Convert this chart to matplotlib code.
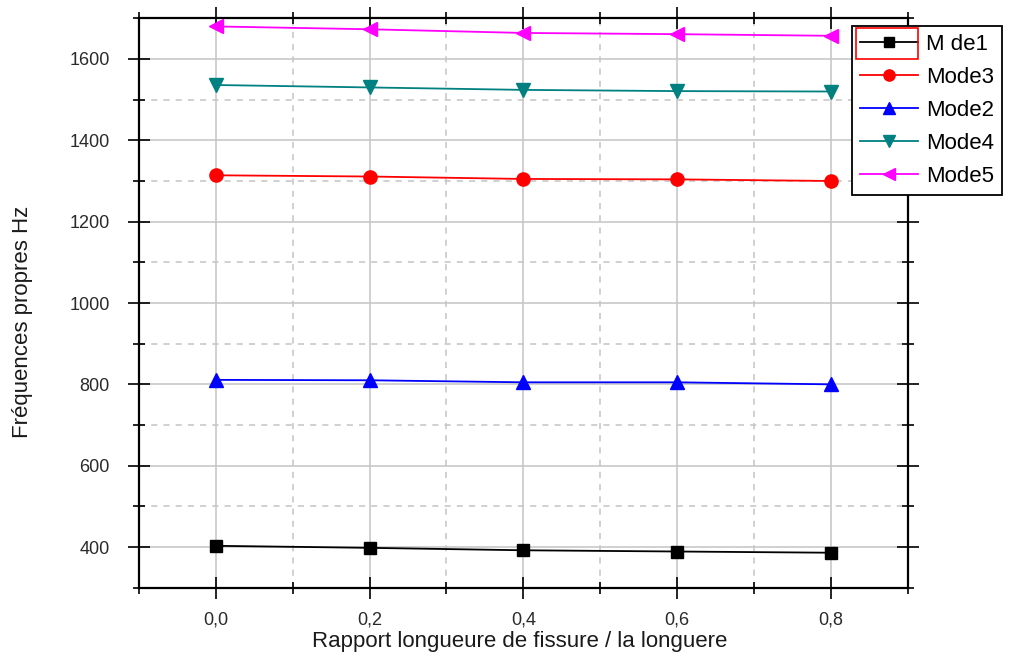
import matplotlib
matplotlib.use("Agg")
import matplotlib.pyplot as plt
from matplotlib.ticker import MultipleLocator, FuncFormatter
from matplotlib.patches import Rectangle

# Crack length ratio (x) and natural frequencies of each mode (Hz)
ratio = [0.0, 0.2, 0.4, 0.6, 0.8]
mode1 = [403, 398, 392, 389, 386]
mode3 = [1314, 1311, 1305, 1304, 1300]
mode2 = [811, 810, 805, 805, 800]
mode4 = [1536, 1530, 1524, 1521, 1520]
mode5 = [1680, 1673, 1664, 1661, 1657]

labels = ["M de1", "Mode3", "Mode2", "Mode4", "Mode5"]
x_ticks = [0.0, 0.2, 0.4, 0.6, 0.8]
y_ticks = [400, 600, 800, 1000, 1200, 1400, 1600]

plt.rcParams["font.family"] = ["Liberation Sans", "DejaVu Sans"]

fig = plt.figure(figsize=(10.10, 6.56), dpi=100)
ax = fig.add_axes([139 / 1010, (656 - 587.7) / 656, 768.5 / 1010, 569.4 / 656])

series = [
    (mode1, "black", "s", 9),
    (mode3, "#ff0000", "o", 9.5),
    (mode2, "#0000ff", "^", 10),
    (mode4, "#008080", "v", 10),
    (mode5, "#ff00ff", "<", 10),
]
for (vals, col, mk, ms), lab in zip(series, labels):
    ax.plot(ratio, vals, color=col, marker=mk, markersize=ms, lw=1.3,
            markeredgecolor=col, markerfacecolor=col, label=lab, zorder=3)

ax.set_xlim(-0.1, 0.9)
ax.set_ylim(300, 1700)
ax.set_xticks(x_ticks)
ax.set_yticks(y_ticks)
ax.xaxis.set_minor_locator(MultipleLocator(0.1))
ax.yaxis.set_minor_locator(MultipleLocator(100))
ax.xaxis.set_major_formatter(FuncFormatter(lambda v, p: f"{v:.1f}".replace(".", ",")))

ax.grid(True, which="major", color="#c4c4c4", lw=1.1, ls="-", zorder=0)
ax.grid(True, which="minor", color="#c4c4c4", lw=1.1, ls=(0, (4, 4)), zorder=0)
ax.set_axisbelow(True)

for s in ax.spines.values():
    s.set_linewidth(1.6)
ax.tick_params(which="both", direction="inout", top=True, right=True,
               colors="black", width=1.2, labelcolor="#2a2a2a")
ax.tick_params(which="major", length=16, labelsize=13)
ax.tick_params(which="minor", length=9)
ax.tick_params(axis="x", which="major", pad=9)
ax.tick_params(axis="y", which="major", pad=13)

ax.set_xlabel("Rapport longueure de fissure / la longuere", fontsize=16, color="#1a1a1a")
ax.set_ylabel("Fréquences propres Hz", fontsize=16, color="#1a1a1a")
ax.xaxis.set_label_coords(0.495, -0.095)
ax.xaxis.label.set_va("center")
ax.yaxis.set_label_coords(-0.152, 0.467)
ax.yaxis.label.set_va("center")

leg = ax.legend(loc="upper left", bbox_to_anchor=(852 / 1010, 1 - 26 / 656),
                bbox_transform=fig.transFigure, fontsize=16, frameon=True,
                fancybox=False, edgecolor="black", framealpha=1,
                handlelength=2.6, handletextpad=0.4, labelspacing=0.54,
                borderpad=0.35, borderaxespad=0, markerscale=0.85)
leg.get_frame().set_linewidth(1.3)
leg.set_zorder(5)

# selection box around the first legend handle
fig.patches.append(Rectangle((856 / 1010, 1 - 59 / 656), 62 / 1010, 31 / 656,
                             transform=fig.transFigure, fill=False,
                             edgecolor="#ff0000", lw=1.2, zorder=10))

fig.savefig("out.png", dpi=100)
